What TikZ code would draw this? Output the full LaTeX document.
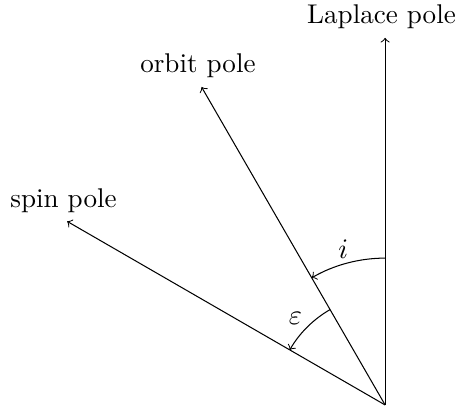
\documentclass[tikz,border=0pt]{standalone}
\begin{document}
\begin{tikzpicture}[
  pole/.style={->, line width=0.4pt},
  anglearc/.style={->, line width=0.4pt},
  polelabel/.style={above, xshift=-1.4pt, font=\fontsize{10.5}{12.6}\selectfont}
]
\useasboundingbox (-5.245,-0.055) rectangle (0.965,5.515);
\coordinate (O) at (0,0);
\coordinate (L) at (90:5);
\coordinate (B) at (120:5);
\coordinate (S) at (150:5);
\draw[pole] (O) -- (L);
\draw[pole] (O) -- (B);
\draw[pole] (O) -- (S);
\node[polelabel] (lapl) at (L) {Laplace pole};
\node[polelabel] (orb) at (B) {orbit pole};
\node[polelabel] (spin) at (S) {spin pole};
\draw[anglearc] (90:2) arc[start angle=90, end angle=120, radius=2];
\draw[anglearc] (120:1.5) arc[start angle=120, end angle=150, radius=1.5];
\node[font=\fontsize{10.5}{12.6}\selectfont] (ilab) at (105:2.2) {$i$};
\node[font=\fontsize{10.5}{12.6}\selectfont] (elab) at (136:1.7) {$\varepsilon$};
\end{tikzpicture}
\end{document}
